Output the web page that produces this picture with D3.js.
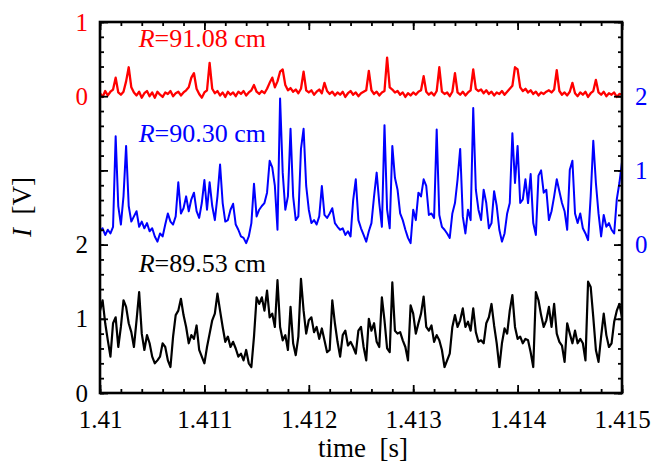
<!DOCTYPE html>
<html>
<head>
<meta charset="utf-8">
<script src="https://cdn.jsdelivr.net/npm/d3@7/dist/d3.min.js"></script>
<style>
  body { margin: 0; background: #fff; }
  svg text { font-family: "Liberation Serif", "Times New Roman", serif; }
</style>
</head>
<body>
<svg id="chart" width="656" height="466"></svg>
<script>
"use strict";

// sampling of the three probe signals
var t0 = 1.41;
var dt = 0.000025;

var xTicks = [1.41, 1.411, 1.412, 1.413, 1.414, 1.415];
var blackTicks = [0, 1, 2];
var blueTicks = [0, 1, 2];
var redTicks = [0, 1];

// R = 89.53 cm
var blackI = [
  1.11,1.25,0.94,0.71,0.49,0.94,1.02,0.62,0.89,1.25,
  1.16,0.94,0.82,0.62,0.98,1.36,0.80,0.58,0.78,0.67,
  0.49,0.40,0.44,0.49,0.67,0.62,0.44,0.35,0.76,1.05,
  1.11,1.27,1.05,0.89,0.67,0.78,0.73,0.91,0.58,0.49,
  0.40,0.62,0.80,0.98,1.07,1.34,1.11,0.89,0.69,0.76,
  0.62,0.69,0.60,0.49,0.53,0.44,0.58,0.40,0.35,0.76,
  1.29,1.20,1.29,1.11,1.38,1.02,1.07,0.89,1.52,0.89,
  0.71,0.78,0.58,1.16,0.67,0.51,0.76,1.54,1.11,0.80,
  0.98,1.02,0.82,0.89,0.73,0.87,0.71,0.55,0.58,1.25,
  0.94,0.69,0.49,0.78,0.84,0.64,0.69,0.62,0.53,0.84,
  0.89,0.62,0.44,1.00,0.84,0.94,0.69,0.62,1.29,0.98,
  0.60,0.55,1.49,0.84,0.80,0.82,0.71,0.62,0.44,1.18,
  1.07,0.80,0.94,1.07,1.30,0.89,0.84,0.91,0.69,0.78,
  0.71,0.58,0.35,0.44,0.53,0.89,1.05,0.89,0.98,1.14,
  0.89,0.96,0.84,1.14,0.82,0.69,0.71,0.67,0.94,1.02,
  1.20,0.91,0.67,0.35,0.67,0.87,0.80,1.11,1.32,0.89,
  0.73,0.76,0.67,0.73,0.71,0.55,0.35,1.36,1.25,1.05,
  0.89,0.98,1.16,0.89,1.20,0.80,0.69,0.64,0.42,0.94,
  0.80,0.67,0.84,0.67,0.73,0.67,0.44,1.50,1.43,1.02,
  0.58,0.42,0.76,1.07,0.78,0.62,0.67,0.96,1.11,1.20,
  1.02
];

// R = 90.30 cm
var blueI = [
  0.18,0.22,0.13,0.20,0.15,0.24,1.46,0.52,0.27,0.65,
  1.33,0.52,0.31,0.38,0.45,0.24,0.31,0.22,0.29,0.18,
  0.22,0.11,0.04,0.15,0.11,0.27,0.42,0.31,0.27,0.38,
  0.84,0.42,0.49,0.65,0.45,0.61,0.70,0.45,0.36,0.56,
  0.87,0.47,0.84,0.52,0.33,0.65,1.08,0.56,0.31,0.33,
  0.47,0.55,0.27,0.20,0.11,0.09,0.02,0.11,0.29,0.82,
  0.38,0.47,0.52,0.56,0.70,1.13,1.04,0.79,0.20,1.97,
  0.97,0.47,0.65,1.56,0.65,0.33,0.38,1.29,1.56,0.79,
  0.47,0.29,0.33,0.27,0.38,0.79,0.40,0.36,0.42,0.49,
  0.29,0.24,0.20,0.22,0.13,0.18,0.11,0.60,0.88,0.33,
  0.22,0.13,0.04,0.18,0.29,0.65,0.97,0.56,0.24,1.61,
  0.47,0.22,1.33,0.90,0.74,0.42,0.33,0.20,0.09,0.02,
  0.47,0.33,0.70,0.65,0.88,0.79,0.40,0.42,0.36,1.55,
  0.40,0.24,0.20,0.15,0.09,0.42,0.56,0.88,1.29,0.38,
  0.15,0.47,0.33,1.84,0.74,0.47,0.33,0.74,0.56,0.22,
  0.29,0.72,0.52,0.20,0.04,0.15,0.42,0.56,1.50,0.83,
  1.33,0.56,0.61,0.88,0.56,0.95,0.29,0.13,0.93,1.00,
  0.70,0.74,0.33,0.45,0.65,0.88,0.72,0.56,0.45,0.20,
  1.01,1.13,0.42,0.29,0.42,0.22,0.15,0.06,0.65,1.40,
  0.83,0.42,0.11,0.40,0.24,0.29,0.20,0.15,0.61,0.83,
  1.11
];

// R = 91.08 cm
var redI = [
  0.04,-0.01,0.07,0.01,0.06,0.09,0.25,0.05,0.02,0.06,
  0.20,0.39,0.12,0.05,0.01,0.06,-0.02,0.04,0.07,0.00,
  0.05,-0.02,0.06,0.02,-0.01,0.05,0.03,0.07,0.00,0.04,
  0.06,0.01,0.05,0.08,0.12,0.25,0.31,0.10,0.03,-0.02,
  0.05,0.08,0.45,0.10,0.04,0.07,0.01,0.05,-0.01,0.06,
  0.02,0.05,0.00,0.06,0.03,0.07,0.01,0.05,0.08,0.15,
  0.06,0.03,0.07,0.04,0.10,0.18,0.25,0.12,0.20,0.33,
  0.36,0.15,0.08,0.11,0.06,0.09,0.04,0.10,0.33,0.08,
  0.05,0.08,0.02,0.06,0.09,0.04,0.18,0.07,0.03,0.06,
  0.01,0.05,0.02,0.06,-0.01,0.04,0.07,0.02,0.05,0.00,
  0.04,0.06,0.08,0.34,0.08,0.03,0.06,0.01,0.05,0.07,
  0.52,0.12,0.09,0.05,0.07,0.02,0.05,-0.01,0.04,0.01,
  0.05,0.02,0.06,0.08,0.27,0.06,0.02,0.05,0.01,0.07,
  0.39,0.06,0.03,0.05,0.00,0.06,0.31,0.05,0.02,0.06,
  0.01,0.05,0.08,0.36,0.10,0.07,0.09,0.04,0.08,0.03,
  0.06,0.01,0.05,0.03,0.07,0.02,0.06,0.10,0.14,0.39,
  0.36,0.12,0.07,0.10,0.05,0.08,0.03,0.06,0.01,0.05,
  0.03,0.06,0.08,0.05,0.09,0.35,0.07,0.02,0.05,0.01,
  0.06,0.18,0.04,0.00,0.05,0.02,0.06,-0.01,0.04,0.07,
  0.22,0.05,0.02,0.06,0.00,0.04,0.02,0.05,-0.01,0.03,
  0.02
];

var svg = d3.select("#chart");
var plotLeft = 100, plotRight = 622, plotTop = 22, plotBottom = 393;

var x = d3.scaleLinear().domain([1.41, 1.415]).range([plotLeft, plotRight]);
// one stacked scale: black 0..2, blue 0..2 from 2, red 0..1 from 4
var y = d3.scaleLinear().domain([0, 5]).range([plotBottom, plotTop]);

var series = [
    { values: blackI, offset: 0, color: "#000000", width: 2.2, R: "89.53", labelY: 1.63 },
    { values: blueI,  offset: 2, color: "#0000ff", width: 2.0, R: "90.30", labelY: 3.38 },
    { values: redI,   offset: 4, color: "#ff0000", width: 2.3, R: "91.08", labelY: 4.66 }
];

svg.append("defs").append("clipPath")
    .attr("id", "plotClip")
    .append("rect")
        .attr("x", plotLeft).attr("y", plotTop)
        .attr("width", plotRight - plotLeft).attr("height", plotBottom - plotTop);

var line = d3.line()
    .x(function (d, i) { return x(t0 + i * dt); });

var traces = svg.append("g").attr("clip-path", "url(#plotClip)");
series.forEach(function (s) {
    traces.append("path")
        .datum(s.values)
        .attr("fill", "none")
        .attr("stroke", s.color)
        .attr("stroke-width", s.width)
        .attr("stroke-linejoin", "round")
        .attr("d", line.y(function (d) { return y(d + s.offset); }));
});

// ticks (inward, mirrored on all four sides)
var xMinor = d3.range(0, 26).map(function (i) { return 1.41 + i * 0.0002; });
var yMajor = d3.range(0, 6);
var yMinor = d3.range(0, 26).map(function (i) { return i * 0.2; });

function tickAxis(axis, scale, values, size, tx, ty) {
    var g = svg.append("g")
        .attr("transform", "translate(" + tx + "," + ty + ")")
        .call(axis(scale).tickValues(values).tickSizeInner(-size).tickSizeOuter(0).tickFormat(""));
    g.select(".domain").remove();
    g.selectAll(".tick line").attr("stroke", "#000").attr("stroke-width", 1.8);
    return g;
}
tickAxis(d3.axisBottom, x, xMinor, 4, 0, plotBottom);
tickAxis(d3.axisBottom, x, xTicks, 8, 0, plotBottom);
tickAxis(d3.axisTop, x, xMinor, 4, 0, plotTop);
tickAxis(d3.axisTop, x, xTicks, 8, 0, plotTop);
tickAxis(d3.axisLeft, y, yMinor, 4, plotLeft, 0);
tickAxis(d3.axisLeft, y, yMajor, 8, plotLeft, 0);
tickAxis(d3.axisRight, y, yMinor, 4, plotRight, 0);
tickAxis(d3.axisRight, y, yMajor, 8, plotRight, 0);

// frame
svg.append("rect")
    .attr("x", plotLeft).attr("y", plotTop)
    .attr("width", plotRight - plotLeft).attr("height", plotBottom - plotTop)
    .attr("fill", "none")
    .attr("stroke", "#000")
    .attr("stroke-width", 2.6);

// tick labels, each group on its own shifted copy of the stacked scale
function labelAxis(axis, scale, values, fmt, pad, tx, ty, color) {
    var g = svg.append("g")
        .attr("transform", "translate(" + tx + "," + ty + ")")
        .call(axis(scale).tickValues(values).tickSize(0).tickPadding(pad).tickFormat(fmt));
    g.select(".domain").remove();
    g.selectAll(".tick text")
        .attr("fill", color)
        .style("font-family", "'Liberation Serif', serif")
        .style("font-size", "25px");
    return g;
}
function asInt(d) { return String(d); }
labelAxis(d3.axisBottom, x, xTicks, d3.format(".3~f"), 17, 0, plotBottom, "#000");
labelAxis(d3.axisLeft, y, blackTicks, asInt, 12, plotLeft, 0, "#000");
labelAxis(d3.axisLeft, y.copy().domain([-4, 1]), redTicks, asInt, 12, plotLeft, 0, "#ff0000");
labelAxis(d3.axisRight, y.copy().domain([-2, 3]), blueTicks, asInt, 13, plotRight, 0, "#0000ff");

// series labels
series.forEach(function (s) {
    var txt = svg.append("text")
        .attr("x", x(1.41037))
        .attr("y", y(s.labelY))
        .attr("fill", s.color)
        .style("font-size", "26px");
    txt.append("tspan").style("font-style", "italic").text("R");
    txt.append("tspan").text("=" + s.R + " cm");
});

// axis titles
svg.append("text")
    .attr("x", (plotLeft + plotRight) / 2 + 2)
    .attr("y", 457)
    .attr("text-anchor", "middle")
    .style("font-size", "27px")
    .style("white-space", "pre")
    .text("time  [s]");

var yt = svg.append("text")
    .attr("transform", "translate(31,207) rotate(-90)")
    .attr("text-anchor", "middle")
    .style("font-size", "27px")
    .style("white-space", "pre");
yt.append("tspan").style("font-style", "italic").text("I");
yt.append("tspan").text("  [V]");
</script>
</body>
</html>
